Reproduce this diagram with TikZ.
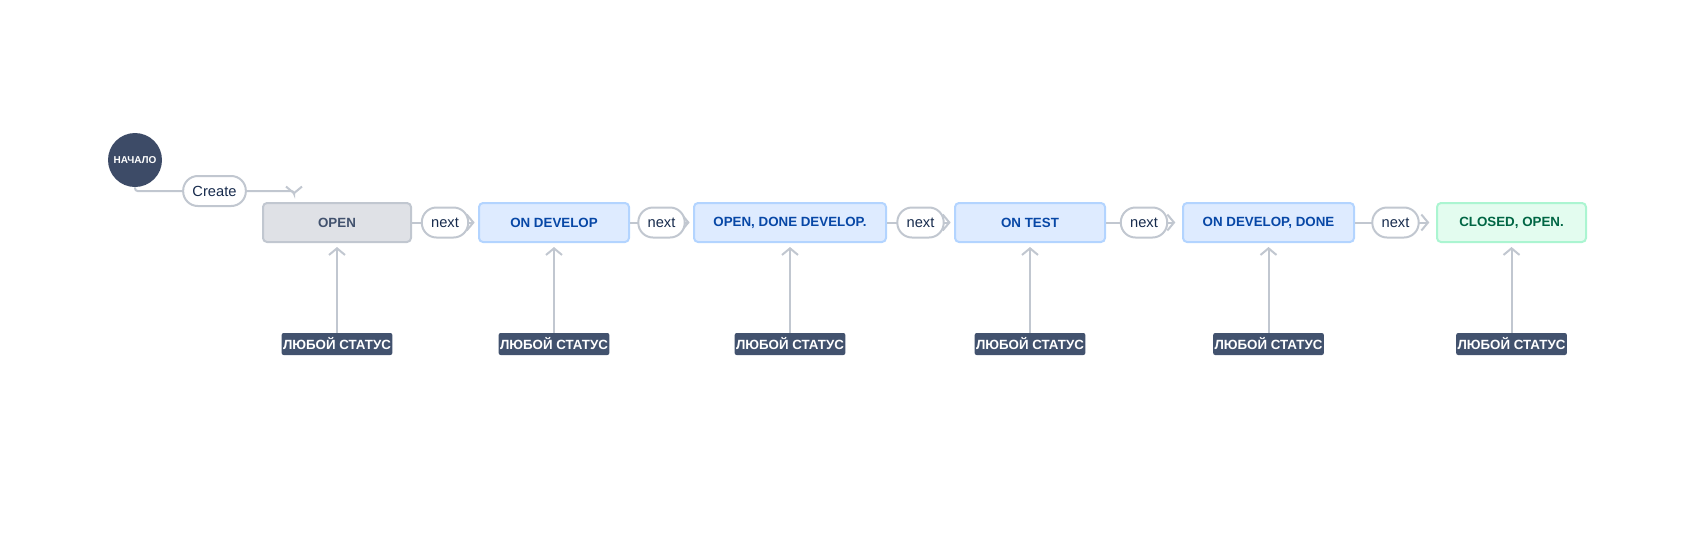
\documentclass[tikz,border=0pt]{standalone}
\usepackage{fontspec}
\setmainfont{Liberation Sans}
\usepackage{tikz}
\usetikzlibrary{arrows.meta}
\usepackage{xcolor}
\definecolor{navy}{HTML}{3D4B67}
\definecolor{slate}{HTML}{42526E}
\definecolor{edgegray}{HTML}{C1C7D0}
\definecolor{greyfill}{HTML}{DFE1E6}
\definecolor{bluefill}{HTML}{DEEBFF}
\definecolor{blueline}{HTML}{B3D4FF}
\definecolor{bluetext}{HTML}{0747A6}
\definecolor{greenfill}{HTML}{E3FCEF}
\definecolor{greenline}{HTML}{ABF5D1}
\definecolor{greentext}{HTML}{006644}
\definecolor{labeltext}{HTML}{172B4D}

\tikzset{
    state/.style={draw, line width=1.5pt, rounded corners=3pt, minimum height=29.25pt,
        inner sep=0pt, font=\fontsize{10}{12}\selectfont\bfseries},
    greystate/.style={state, fill=greyfill, draw=edgegray, text=slate},
    bluestate/.style={state, fill=bluefill, draw=blueline, text=bluetext},
    greenstate/.style={state, fill=greenfill, draw=greenline, text=greentext},
    anystatus/.style={fill=slate, text=white, rounded corners=1.5pt, inner xsep=1pt,
        minimum height=16.5pt, font=\fontsize{10}{12}\selectfont\bfseries},
    translabel/.style={draw=edgegray, fill=white, line width=1.5pt, rounded corners=11pt,
        minimum height=22.5pt, inner xsep=7pt, inner ysep=0pt, text=labeltext,
        font=\fontsize{11}{13}\selectfont},
    flow/.style={draw=edgegray, line width=1.5pt, -{Straight Barb[length=5pt, width=12pt]}},
}

\begin{document}
\begin{tikzpicture}[x=0.75pt, y=-0.75pt]
    \useasboundingbox (0,0) rectangle (1698,540);
    % start
    \node[circle, fill=navy, minimum size=40.5pt, inner sep=0pt, text=white,
        font=\fontsize{7.5}{9}\selectfont\bfseries] (start) at (135,160) {НАЧАЛО};
    \coordinate (createbend) at (294,191);
    \coordinate (createtip) at (294,194.5);
    \draw[flow, rounded corners=2pt] (start.south) |- node[pos=0.75, translabel]{Create} (createbend) -- (createtip);
    % states
    \node[greystate, minimum width=111pt] (open) at (337,222.5) {OPEN};
    \node[bluestate, minimum width=112.5pt] (ondev) at (554,222.5) {ON DEVELOP};
    \node[bluestate, minimum width=144pt] (donedev) at (790,222.5) {OPEN, DONE DEVELOP.};
    \node[bluestate, minimum width=112.5pt] (ontest) at (1030,222.5) {ON TEST};
    \node[bluestate, minimum width=128.25pt] (devdone) at (1268.5,222.5) {ON DEVELOP, DONE};
    \node[greenstate, minimum width=111.75pt] (closed) at (1511.5,222.5) {CLOSED, OPEN.};
    % next transitions
    \draw[flow, shorten >=2.5pt] (open) -- node[translabel]{next} (ondev);
    \draw[flow, shorten >=2.5pt] (ondev) -- node[translabel]{next} (donedev);
    \draw[flow, shorten >=2.5pt] (donedev) -- node[translabel]{next} (ontest);
    \draw[flow, shorten >=5pt] (ontest) -- node[translabel]{next} (devdone);
    \draw[flow, shorten >=5pt] (devdone) -- node[translabel]{next} (closed);
    % from any status
    \node[anystatus] (any1) at (337,344) {ЛЮБОЙ СТАТУС};
    \node[anystatus] (any2) at (554,344) {ЛЮБОЙ СТАТУС};
    \node[anystatus] (any3) at (790,344) {ЛЮБОЙ СТАТУС};
    \node[anystatus] (any4) at (1030,344) {ЛЮБОЙ СТАТУС};
    \node[anystatus] (any5) at (1268.5,344) {ЛЮБОЙ СТАТУС};
    \node[anystatus] (any6) at (1511.5,344) {ЛЮБОЙ СТАТУС};
    \draw[flow, shorten >=3pt] (any1) -- (open);
    \draw[flow, shorten >=3pt] (any2) -- (ondev);
    \draw[flow, shorten >=3pt] (any3) -- (donedev);
    \draw[flow, shorten >=3pt] (any4) -- (ontest);
    \draw[flow, shorten >=3pt] (any5) -- (devdone);
    \draw[flow, shorten >=3pt] (any6) -- (closed);
\end{tikzpicture}
\end{document}
